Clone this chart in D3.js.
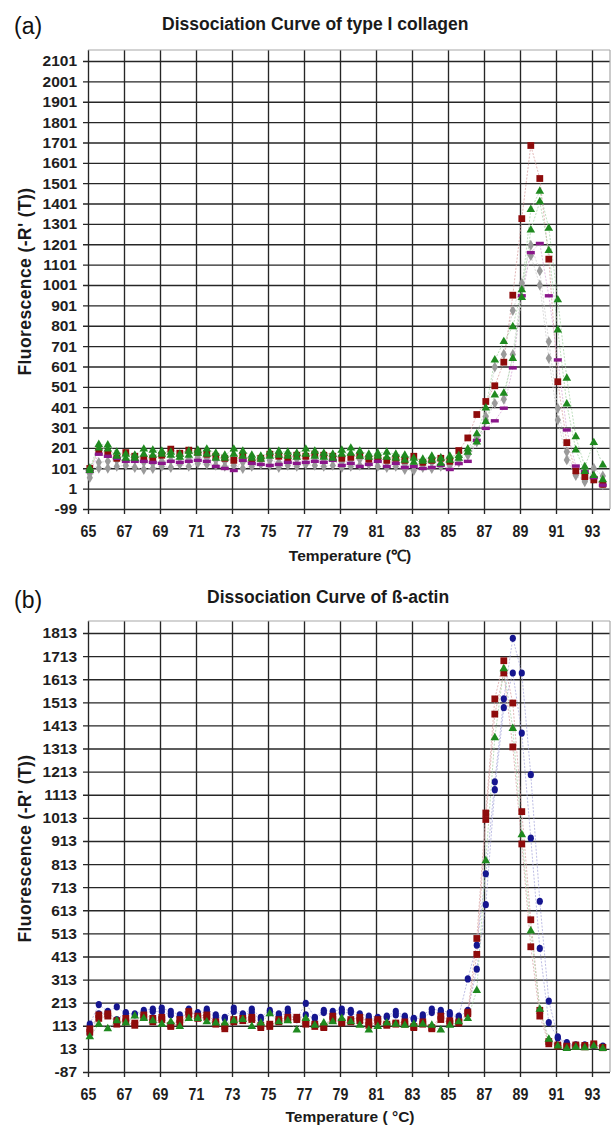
<!DOCTYPE html>
<html><head><meta charset="utf-8">
<script src="https://cdn.jsdelivr.net/npm/d3@7"></script>
<style>
body{margin:0;background:#fff;}
svg text{font-family:"Liberation Sans",Arial,Helvetica,sans-serif;}
</style></head><body>
<svg id="c" width="614" height="1130"></svg>
<script>
// ---------- data ----------
const temps = [65.1,65.6,66.1,66.6,67.1,67.6,68.1,68.6,69.1,69.6,
  70.1,70.6,71.1,71.6,72.1,72.6,73.1,73.6,74.1,74.6,
  75.1,75.6,76.1,76.6,77.1,77.6,78.1,78.6,79.1,79.6,
  80.1,80.6,81.1,81.6,82.1,82.6,83.1,83.6,84.1,84.6,
  85.1,85.6,86.1,86.6,87.1,87.6,88.1,88.6,89.1,89.6,
  90.1,90.6,91.1,91.6,92.1,92.6,93.1,93.6];
const xTicks = [65,67,69,71,73,75,77,79,81,83,85,87,89,91,93];
const yTicksA = [-99,1,101,201,301,401,501,601,701,801,901,1001,1101,1201,1301,1401,1501,1601,1701,1801,1901,2001,2101];
const yTicksB = [-87,13,113,213,313,413,513,613,713,813,913,1013,1113,1213,1313,1413,1513,1613,1713,1813];

// panel (a): type I collagen
const aRed = [100,185,170,150,178,160,145,150,165,195,
  175,190,180,170,160,150,140,165,135,150,
  170,160,150,165,160,170,165,160,150,155,
  165,145,150,140,150,140,160,130,140,150,
  135,188,250,365,429,506,622,951,1327,1686,
  1524,1128,526,227,88,60,44,22];
const aGreen1 = [101,218,215,180,170,165,195,190,185,180,
  170,185,190,195,175,165,195,185,165,160,
  180,185,180,175,195,185,175,170,190,200,
  185,170,175,180,170,165,150,145,160,150,
  160,164,196,270,397,633,723,796,977,1372,
  1461,1280,928,543,256,109,227,117];
const aGreen2 = [90,200,195,160,150,150,170,165,170,165,
  155,165,175,170,150,150,170,160,150,145,
  160,165,160,155,170,160,155,150,170,175,
  160,155,160,155,150,140,130,135,140,125,
  140,150,180,230,330,461,469,640,940,1271,
  1410,1170,780,417,191,85,65,45];
const aGray1 = [55,101,101,110,115,105,95,100,110,105,
  120,110,125,120,115,110,115,100,110,120,
  115,105,115,110,120,115,110,115,105,110,
  115,120,110,105,110,95,90,105,100,110,
  115,147,180,255,355,598,661,876,1010,1196,
  1070,723,396,182,75,40,101,63];
const aGray2 = [75,130,135,140,135,145,130,125,135,140,
  150,145,155,150,140,135,145,130,135,145,
  140,130,140,145,150,140,135,145,130,140,
  145,150,140,130,135,120,110,125,130,150,
  140,130,165,230,338,420,440,660,985,1145,
  1001,641,338,142,65,35,50,20];
const aPurple = [85,170,160,150,135,135,135,130,125,135,
  130,135,140,135,110,100,90,140,125,120,
  115,120,130,125,130,135,130,140,115,125,
  110,120,135,110,125,105,110,100,105,115,
  95,124,135,238,297,334,396,594,948,1160,
  1205,948,633,289,112,84,55,18];

// panel (b): beta-actin
const bBlue1 = [120,205,175,195,165,165,180,185,190,175,
  160,185,170,185,160,150,190,165,185,150,
  180,165,185,145,210,150,180,175,185,180,
  165,155,150,155,175,155,145,160,185,180,
  170,155,316,462,771,1169,1528,1790,1640,1200,
  652,220,65,40,30,30,30,25];
const bBlue2 = [80,165,170,140,170,160,170,175,175,160,
  150,170,165,175,150,145,175,160,170,140,
  170,155,170,140,160,145,170,160,170,170,
  150,145,140,150,160,150,140,150,170,170,
  160,150,180,358,637,1135,1490,1640,1380,925,
  448,127,60,35,28,25,28,22];
const bRed1 = [100,160,165,120,145,125,160,145,150,115,
  140,175,155,160,130,100,140,145,150,115,
  110,140,150,150,130,120,110,155,130,140,
  150,130,140,120,125,130,110,130,105,155,
  135,130,172,491,1034,1528,1693,1510,1040,572,
  180,45,30,25,30,28,35,20];
const bRed2 = [85,145,155,135,130,115,150,130,140,110,
  125,160,145,150,120,110,130,135,140,105,
  120,130,140,140,120,110,105,140,125,130,
  135,115,130,115,120,120,105,120,100,140,
  125,125,165,422,1006,1462,1640,1320,900,455,
  155,35,25,20,25,22,30,18];
const bGreen = [65,120,100,135,125,155,145,135,120,130,
  110,145,145,130,125,125,135,140,110,125,
  165,130,135,95,145,115,125,130,145,130,
  115,95,110,125,120,115,120,120,115,95,
  115,130,145,266,827,1360,1658,1400,940,523,
  185,55,25,15,20,18,25,15];

// ---------- drawing ----------
const svg = d3.select('#c');
const L = 88, R = 610;
const x = d3.scaleLinear().domain([65, 94]).range([L, R]);

const styles = {
  red:    {shape:'square',   fill:'#8e0b0b', line:'#d8a0a0'},
  green:  {shape:'triangle', fill:'#1f8a1f', line:'#a8d4a8'},
  gray:   {shape:'diamond',  fill:'#9a9a9a', line:'#cfcfcf'},
  purple: {shape:'dash',     fill:'#8a168a', line:'#d8a8d8'},
  blue:   {shape:'circle',   fill:'#15158f', line:'#a8a8dc'}
};

function drawPanel(cfg) {
  const g = svg.append('g');
  const y = d3.scaleLinear().domain(cfg.yDomain).range([cfg.bottom, cfg.top]);

  const ya = g.append('g').attr('transform', `translate(${L-5},0)`)
    .call(d3.axisLeft(y).tickValues(cfg.yTicks).tickSize(-(R - L + 5)).tickPadding(6).tickFormat(d => String(d)));
  ya.select('.domain').remove();
  ya.selectAll('.tick line').attr('stroke', '#262626').attr('stroke-width', 1.35);
  ya.selectAll('.tick text').attr('font-size', 15.5).attr('font-weight', 'bold').attr('fill', '#1e1e1e');

  const xa = g.append('g').attr('transform', `translate(0,${cfg.bottom + 5})`)
    .call(d3.axisBottom(x).tickValues(xTicks).tickSize(-(cfg.bottom + 5 - cfg.top)).tickPadding(11.6).tickFormat(d => String(d)));
  xa.select('.domain').remove();
  xa.selectAll('.tick line').attr('stroke', '#262626').attr('stroke-width', 1.35);
  xa.selectAll('.tick text').attr('font-size', 16.5).attr('font-weight', 'bold').attr('fill', '#1e1e1e')
    .attr('transform', 'scale(0.86,1)');

  g.append('line').attr('x1', L).attr('x2', R).attr('y1', cfg.top).attr('y2', cfg.top)
    .attr('stroke', '#a8a8a8').attr('stroke-width', 1.2);
  g.append('line').attr('x1', R).attr('x2', R).attr('y1', cfg.top).attr('y2', cfg.bottom)
    .attr('stroke', '#a8a8a8').attr('stroke-width', 1.2);

  const line = d3.line().x((d, i) => x(temps[i])).y(d => y(d));
  cfg.series.forEach(s => {
    g.append('path').attr('d', line(s.values)).attr('fill', 'none')
      .attr('stroke', styles[s.color].line).attr('stroke-width', 0.9)
      .attr('stroke-dasharray', '2,1.5').attr('opacity', 0.85);
  });

  cfg.series.forEach(s => {
    const st = styles[s.color];
    const mg = g.append('g').attr('fill', st.fill);
    const pts = s.values.map((v, i) => [x(temps[i]), y(v)]);
    if (st.shape === 'dash') {
      mg.selectAll('rect').data(pts).join('rect')
        .attr('x', d => d[0] - 4).attr('y', d => d[1] - 1.7).attr('width', 8).attr('height', 3.4);
    } else if (st.shape === 'circle') {
      mg.selectAll('ellipse').data(pts).join('ellipse')
        .attr('cx', d => d[0]).attr('cy', d => d[1]).attr('rx', 3.1).attr('ry', 3.6);
    } else {
      const type = st.shape === 'square' ? d3.symbolSquare : st.shape === 'triangle' ? d3.symbolTriangle : d3.symbolDiamond;
      const size = st.shape === 'square' ? 46 : st.shape === 'triangle' ? 32 : 34;
      const sym = d3.symbol().type(type).size(size);
      mg.selectAll('path').data(pts).join('path')
        .attr('transform', d => `translate(${d[0]},${d[1]})`).attr('d', sym());
    }
  });

  svg.append('text').attr('x', 14).attr('y', cfg.tagY).attr('font-size', 23).attr('fill', '#111').text(cfg.tag);
  svg.append('text').attr('x', cfg.titleX).attr('y', cfg.titleY).attr('font-size', 17.5).attr('font-weight', 'bold')
    .attr('fill', '#1a1a1a').text(cfg.title);
  svg.append('text').attr('transform', `translate(31,${(cfg.top + cfg.bottom) / 2 + 2}) rotate(-90)`)
    .attr('text-anchor', 'middle').attr('font-size', 17.5).attr('font-weight', 'bold').attr('fill', '#1a1a1a')
    .attr('letter-spacing', 0.4)
    .text('Fluorescence (-R\' (T))');
  svg.append('text').attr('x', 350).attr('y', cfg.xLabelY).attr('text-anchor', 'middle').attr('font-size', 15.5)
    .attr('font-weight', 'bold').attr('fill', '#1a1a1a').text(cfg.xLabel);
}

drawPanel({
  top: 50, bottom: 509, yDomain: [-99, 2155], yTicks: yTicksA,
  tag: '(a)', tagY: 34, title: 'Dissociation Curve of type I collagen', titleX: 162, titleY: 30,
  xLabel: 'Temperature (\u2103)', xLabelY: 561,
  series: [
    {color: 'gray', values: aGray2}, {color: 'gray', values: aGray1},
    {color: 'red', values: aRed}, {color: 'purple', values: aPurple},
    {color: 'green', values: aGreen2}, {color: 'green', values: aGreen1}
  ]
});

drawPanel({
  top: 621, bottom: 1072, yDomain: [-87, 1865], yTicks: yTicksB,
  tag: '(b)', tagY: 608, title: 'Dissociation Curve of \u00df-actin', titleX: 207, titleY: 603,
  xLabel: 'Temperature ( \u00b0C)', xLabelY: 1122,
  series: [
    {color: 'blue', values: bBlue2}, {color: 'blue', values: bBlue1},
    {color: 'red', values: bRed2}, {color: 'red', values: bRed1},
    {color: 'green', values: bGreen}
  ]
});
</script>
</body></html>
